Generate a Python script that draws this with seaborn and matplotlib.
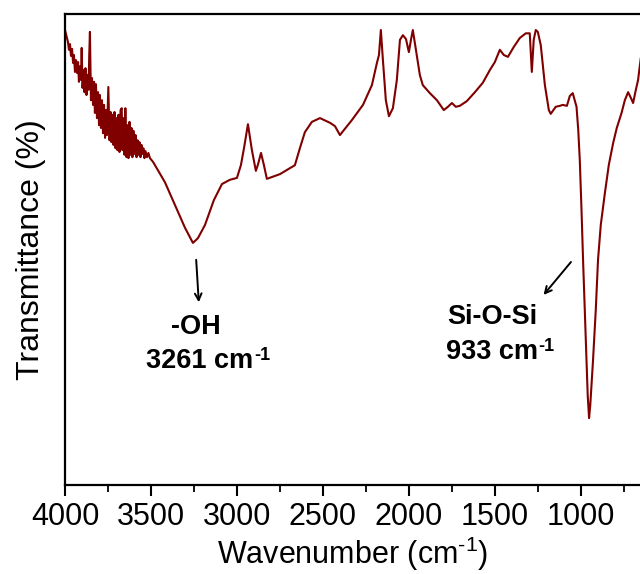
import matplotlib
matplotlib.use("Agg")
import matplotlib.pyplot as plt
import seaborn as sns
import pandas as pd
from matplotlib.ticker import MultipleLocator

# ---- data (wavenumber, transmittance in arbitrary %) ----
wavenumber = [
    4000, 3991, 3983, 3977, 3971, 3965, 3959, 3953, 3948, 3942,
    3936, 3930, 3924, 3919, 3913, 3907, 3903, 3898, 3892, 3887,
    3881, 3875, 3869, 3863, 3859, 3855, 3849, 3843, 3837, 3831,
    3826, 3820, 3814, 3808, 3802, 3797, 3791, 3785, 3779, 3773,
    3767, 3762, 3756, 3748, 3741, 3735, 3730, 3724, 3718, 3712,
    3706, 3701, 3695, 3689, 3683, 3677, 3670, 3666, 3660, 3654,
    3649, 3642, 3637, 3631, 3625, 3619, 3613, 3608, 3602, 3596,
    3590, 3584, 3578, 3573, 3567, 3561, 3555, 3549, 3544, 3538,
    3532, 3523, 3515, 3506, 3488, 3467,
    3419, 3360, 3302, 3256, 3227, 3186, 3134, 3087, 3041, 3000,
    2977, 2959, 2936, 2913, 2890, 2878, 2860, 2843, 2826, 2750,
    2663, 2634, 2605, 2564, 2517, 2459, 2430, 2401, 2331, 2267,
    2215, 2186, 2174, 2163, 2151, 2134, 2116, 2093, 2070, 2052,
    2035, 2017, 2000, 1988, 1977, 1959, 1936, 1919, 1878, 1837,
    1797, 1773, 1750, 1727, 1704, 1663, 1616, 1570, 1529, 1500,
    1471, 1448, 1424, 1390, 1355, 1320, 1297, 1285, 1274, 1262,
    1250, 1233, 1209, 1186, 1175, 1146, 1122, 1105, 1081, 1064,
    1047, 1025, 1015, 1006, 996, 987, 977, 967, 960, 952,
    945, 929, 913, 900, 884, 860, 837, 812, 791, 763,
    744, 725, 709, 696, 680, 667, 651,
]
transmittance = [
    96.6, 95.3, 94.1, 92.4, 93.6, 91.1, 92.6, 89.6, 91.3, 87.7,
    90.2, 87.5, 89.8, 85.6, 88.9, 86.0, 92.8, 84.3, 88.1, 83.4,
    88.5, 82.8, 87.1, 83.9, 91.3, 96.2, 81.7, 86.4, 80.7, 85.6,
    79.0, 85.1, 77.9, 83.4, 76.4, 82.8, 75.8, 81.7, 74.7, 80.7,
    73.7, 79.6, 74.3, 84.5, 73.2, 79.2, 72.8, 78.6, 72.2, 79.2,
    71.5, 77.9, 71.1, 78.6, 70.7, 79.6, 80.0, 71.1, 77.9, 70.1,
    80.0, 69.6, 76.4, 69.4, 77.1, 70.1, 75.8, 69.6, 75.2, 70.3,
    74.3, 69.6, 73.2, 70.1, 72.8, 69.6, 72.2, 70.3, 71.5, 69.4,
    70.9, 69.6, 70.5, 69.4, 68.6, 67.3,
    64.3, 59.4, 54.6, 51.4, 52.4, 55.2, 60.5, 63.9, 64.8, 65.2,
    67.9, 71.5, 76.6, 71.1, 66.7, 68.0, 70.5, 67.9, 65.0, 66.0,
    67.9, 71.5, 74.9, 77.1, 77.9, 76.9, 76.2, 74.3, 77.5, 80.7,
    84.9, 89.6, 91.3, 96.6, 90.2, 81.7, 78.3, 80.0, 86.0, 94.5,
    95.5, 94.7, 91.9, 94.5, 96.6, 92.4, 87.0, 84.9, 83.2, 81.7,
    79.6, 80.3, 81.1, 80.3, 80.5, 81.5, 83.4, 85.4, 88.1, 89.8,
    92.4, 91.3, 90.9, 93.0, 94.9, 95.9, 95.9, 87.7, 94.5, 96.6,
    96.2, 93.4, 84.9, 79.6, 78.8, 80.3, 80.5, 80.7, 80.5, 82.6,
    83.2, 80.3, 75.4, 69.0, 58.4, 47.8, 37.2, 26.5, 19.1, 14.2,
    17.0, 26.5, 37.2, 47.8, 55.2, 62.0, 68.0, 72.6, 75.8, 79.0,
    81.7, 83.4, 82.2, 81.1, 83.9, 86.0, 90.7,
]
xticks = [4000, 3500, 3000, 2500, 2000, 1500, 1000]
xtick_labels = ["4000", "3500", "3000", "2500", "2000", "1500", "1000"]

df = pd.DataFrame({"Wavenumber": wavenumber, "Transmittance": transmittance})

sns.set_theme(style="white")
plt.rcParams["font.family"] = ["Liberation Sans", "DejaVu Sans"]
plt.rcParams["text.color"] = "black"
plt.rcParams["axes.labelcolor"] = "black"
plt.rcParams["xtick.color"] = "black"
plt.rcParams["mathtext.fontset"] = "custom"
plt.rcParams["mathtext.rm"] = "Liberation Sans"
plt.rcParams["mathtext.it"] = "Liberation Sans"
plt.rcParams["mathtext.bf"] = "Liberation Sans:bold"

fig = plt.figure(figsize=(6.40, 5.74), dpi=100)
ax = fig.add_axes([65 / 640, (574 - 485) / 574, 576 / 640, 471 / 574])

sns.lineplot(data=df, x="Wavenumber", y="Transmittance", sort=False,
             estimator=None, color="#800000", linewidth=1.5, ax=ax)

ax.set_xlim(4000, 650)
ax.set_ylim(0, 100)
ax.set_xticks(xticks)
ax.set_xticklabels(xtick_labels)
ax.xaxis.set_minor_locator(MultipleLocator(250))
ax.set_yticks([])
ax.tick_params(axis="x", which="major", direction="out", length=8, width=1.5,
               labelsize=22, pad=4, bottom=True, colors="black")
ax.tick_params(axis="x", which="minor", direction="out", length=5, width=1.3,
               bottom=True)
for side in ["left", "bottom", "top"]:
    ax.spines[side].set_visible(True)
    ax.spines[side].set_color("black")
    ax.spines[side].set_linewidth(1.6)
ax.spines["right"].set_visible(False)

ax.set_xlabel(r"Wavenumber (cm$^{\text{-1}}$)", fontsize=22, color="black",
              labelpad=2)
ax.set_ylabel("Transmittance (%)", fontsize=23, color="black", labelpad=14)


def label_with_sup(x, y, main, sup):
    t = ax.text(x, y, main, ha="center", va="center", fontsize=19.5,
                fontweight="bold", color="black")
    ax.annotate(sup, xy=(1, 1), xycoords=t, xytext=(0.5, 0.5),
                textcoords="offset points", ha="left", va="top",
                fontsize=13, fontweight="bold", color="black")


# annotations
ax.annotate("", xy=(3221, 38.2), xytext=(3238, 48.4),
            arrowprops=dict(arrowstyle="->", color="black", lw=1.4))
ax.text(3238, 33.5, "-OH", ha="center", va="center", fontsize=19.5,
        fontweight="bold", color="black")
label_with_sup(3215, 26.3, "3261 cm", "-1")
ax.annotate("", xy=(1227, 39.9), xytext=(1047, 47.8),
            arrowprops=dict(arrowstyle="->", color="black", lw=1.4))
ax.text(1512, 35.7, "Si-O-Si", ha="center", va="center", fontsize=19.5,
        fontweight="bold", color="black")
label_with_sup(1517, 28.2, "933 cm", "-1")

fig.savefig("out.png", dpi=100)
